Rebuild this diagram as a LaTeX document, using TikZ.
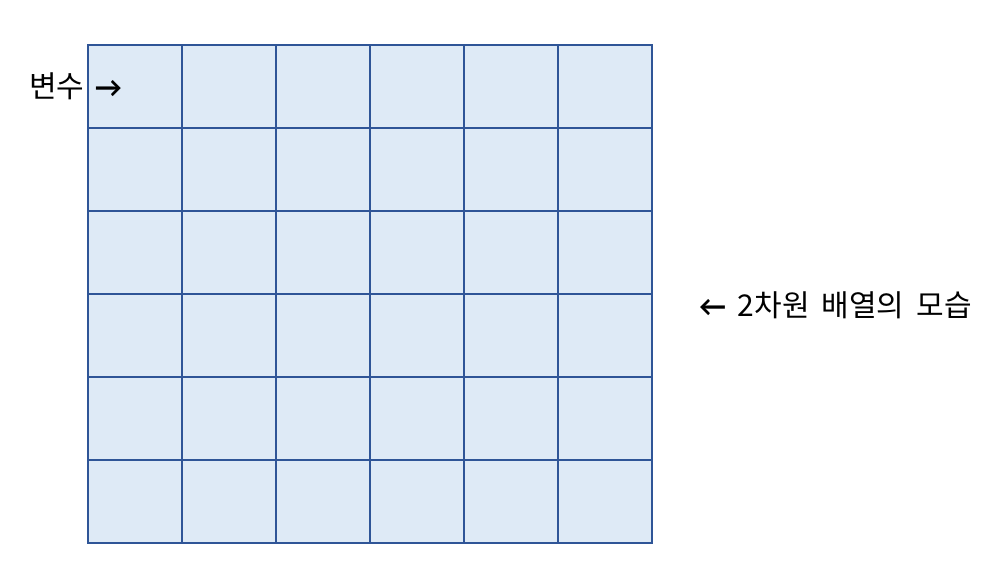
\documentclass[tikz,border=0pt]{standalone}
\usepackage{fontspec}
\setmainfont{Noto Sans CJK KR}
\newfontfamily\arrowfont{Carlito}
\definecolor{cellfill}{HTML}{DEEAF6}
\definecolor{cellline}{HTML}{2F5597}
\tikzset{
  cell/.style={draw=cellline, fill=cellfill, line width=1.5pt, minimum width=94*0.75pt, minimum height=83*0.75pt, inner sep=0pt, outer sep=0pt},
  lbl/.style={font=\fontsize{22.5}{26}\selectfont, inner sep=0pt}
}
\newcommand{\rarr}{{\arrowfont\bfseries\fontsize{22}{24}\selectfont →}}
\newcommand{\larr}{{\arrowfont\bfseries\fontsize{22}{24}\selectfont ←}}
\begin{document}
\begin{tikzpicture}[x=0.75pt,y=-0.75pt]
\useasboundingbox (0,0) rectangle (998,588);
\foreach \r in {0,...,5}{
  \foreach \c in {0,...,5}{
    \node[cell] (c\r\c) at ({88+47+94*\c},{45+41.5+83*\r}) {};
  }
}
\node[lbl, anchor=west] (var) at (29,86) {변수\hspace{8pt}\rarr};
\node[lbl, anchor=west] (desc) at (699,305) {\larr\hspace{9pt}2차원\hspace{9pt}배열의\hspace{9pt}모습};
\end{tikzpicture}
\end{document}
